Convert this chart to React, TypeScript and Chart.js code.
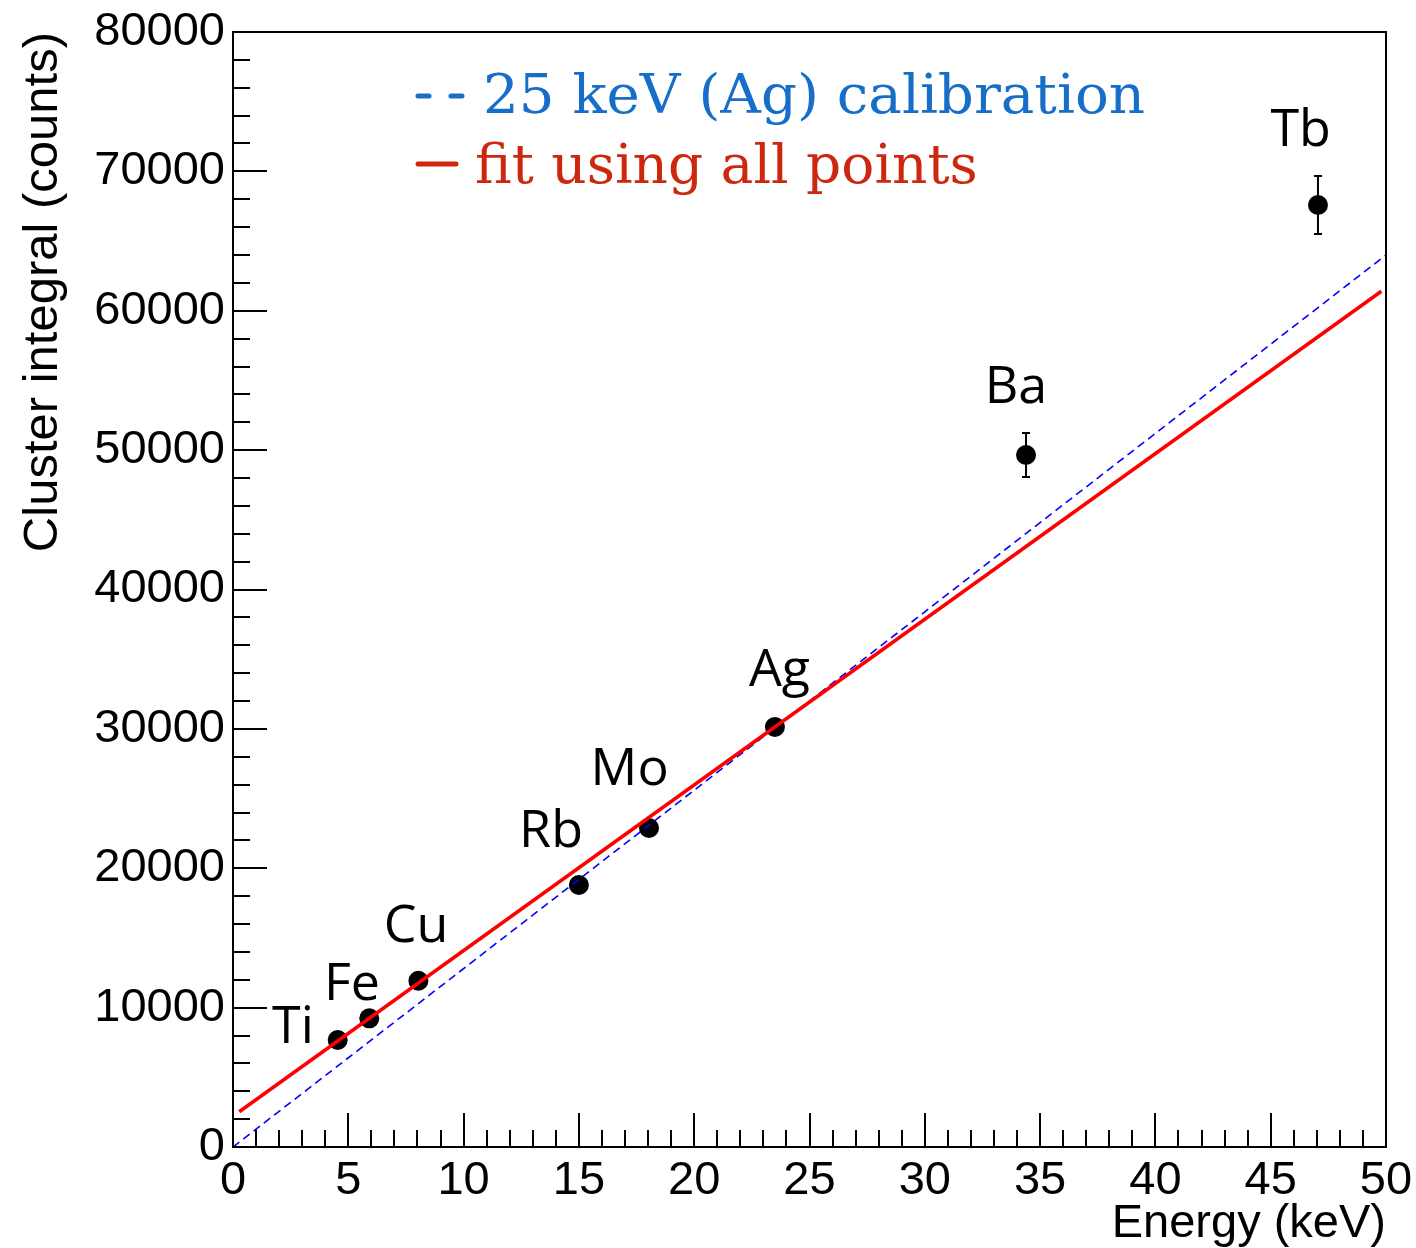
import React, { useEffect, useRef } from 'react';
import { Chart, registerables } from 'chart.js';

Chart.register(...registerables);

// ---- data ----
const elementNames = ['Ti', 'Fe', 'Cu', 'Rb', 'Mo', 'Ag', 'Ba', 'Tb'];
const energies = [4.54, 5.91, 8.04, 15.0, 18.04, 23.5, 34.39, 47.05];
const integrals = [7680, 9230, 11930, 18800, 22890, 30140, 49650, 67590];
const integralErrors = [200, 250, 300, 400, 450, 550, 1580, 2080];

// label anchors (data units: x centre, y baseline)
const labelAnchorX = [2.6, 5.16, 7.94, 13.79, 17.2, 23.7, 33.95, 46.3];
const labelAnchorY = [7460, 10550, 14710, 21530, 25970, 33080, 53380, 71820];

// 25 keV (Ag) calibration line
const calibrationX = [0, 50];
const calibrationY = [0, 64000];

// fit using all points
const fitX = [0.27, 49.8];
const fitY = [2530, 61400];

const xMin = 0, xMax = 50, xMajor = 5, xMinor = 1;
const yMin = 0, yMax = 80000, yMajor = 10000, yMinor = 2000;

const legendLines = ['25 keV (Ag) calibration', 'fit using all points'];
const xTitle = 'Energy (keV)';
const yTitle = 'Cluster integral (counts)';

const AXIS_FONT = '"Liberation Sans", Arial, Helvetica, sans-serif';
const LABEL_FONT = '"Open Sans", sans-serif';
const LEGEND_FONT = '"DejaVu Serif", serif';
const BLUE_TEXT = 'rgb(22,110,200)';
const RED_TEXT = 'rgb(205,40,15)';

const overlay = {
  id: 'overlay',
  beforeDatasetsDraw(chart: any) {
    const ctx = chart.ctx;
    const xs = chart.scales.x, ys = chart.scales.y;
    ctx.save();
    ctx.strokeStyle = '#000';
    ctx.lineWidth = 2;
    energies.forEach((e, i) => {
      const px = xs.getPixelForValue(e);
      const top = ys.getPixelForValue(integrals[i] + integralErrors[i]);
      const bot = ys.getPixelForValue(integrals[i] - integralErrors[i]);
      ctx.beginPath();
      ctx.moveTo(px, top); ctx.lineTo(px, bot);
      ctx.moveTo(px - 4, top); ctx.lineTo(px + 4, top);
      ctx.moveTo(px - 4, bot); ctx.lineTo(px + 4, bot);
      ctx.stroke();
    });
    ctx.restore();
  },
  afterDraw(chart: any) {
    const ctx = chart.ctx;
    const xs = chart.scales.x, ys = chart.scales.y;
    const { left, right, top, bottom } = chart.chartArea;
    ctx.save();
    // frame
    ctx.strokeStyle = '#000';
    ctx.lineWidth = 2;
    ctx.strokeRect(left, top, right - left, bottom - top);
    // inner ticks
    ctx.beginPath();
    for (let v = xMin; v <= xMax + 1e-9; v += xMinor) {
      const px = Math.round(xs.getPixelForValue(v));
      const major = Math.abs(v / xMajor - Math.round(v / xMajor)) < 1e-6;
      const len = major ? 34 : 17;
      ctx.moveTo(px, bottom); ctx.lineTo(px, bottom - len);
    }
    for (let v = yMin; v <= yMax + 1e-9; v += yMinor) {
      const py = Math.round(ys.getPixelForValue(v));
      const major = Math.abs(v / yMajor - Math.round(v / yMajor)) < 1e-6;
      const len = major ? 34 : 17;
      ctx.moveTo(left, py); ctx.lineTo(left + len, py);
    }
    ctx.stroke();

    // element labels
    ctx.fillStyle = '#000';
    ctx.font = `52px ${LABEL_FONT}`;
    ctx.textAlign = 'center';
    ctx.textBaseline = 'alphabetic';
    elementNames.forEach((n, i) => {
      ctx.fillText(n, xs.getPixelForValue(labelAnchorX[i]), ys.getPixelForValue(labelAnchorY[i]));
    });

    // legend
    const lx = left + 183;
    ctx.lineCap = 'round';
    ctx.lineWidth = 5;
    ctx.strokeStyle = BLUE_TEXT;
    ctx.beginPath();
    ctx.moveTo(lx + 2, top + 64); ctx.lineTo(lx + 13, top + 64);
    ctx.moveTo(lx + 35, top + 64); ctx.lineTo(lx + 46, top + 64);
    ctx.stroke();
    ctx.strokeStyle = RED_TEXT;
    ctx.beginPath();
    ctx.moveTo(lx + 2, top + 132); ctx.lineTo(lx + 40, top + 132);
    ctx.stroke();
    ctx.font = `55px ${LEGEND_FONT}`;
    ctx.textAlign = 'left';
    ctx.fillStyle = BLUE_TEXT;
    ctx.save();
    ctx.translate(lx + 67, top + 81);
    ctx.scale(1.023, 1);
    ctx.fillText(legendLines[0], 0, 0);
    ctx.restore();
    ctx.fillStyle = RED_TEXT;
    ctx.fillText(legendLines[1], lx + 59, top + 151);
    ctx.restore();
  },
};

export default function App() {
  const ref = useRef<HTMLCanvasElement | null>(null);
  useEffect(() => {
    document.body.style.margin = '0';
    document.body.style.overflow = 'hidden';
    const canvas = ref.current!;
    const points = energies.map((e, i) => ({ x: e, y: integrals[i] }));
    const calib = calibrationX.map((x, i) => ({ x, y: calibrationY[i] }));
    const fit = fitX.map((x, i) => ({ x, y: fitY[i] }));
    const chart = new Chart(canvas, {
      type: 'scatter',
      data: {
        datasets: [
          {
            label: 'fit using all points',
            data: fit,
            showLine: true,
            borderColor: '#ff0000',
            borderWidth: 3.5,
            pointRadius: 0,
            fill: false,
          },
          {
            label: '25 keV (Ag) calibration',
            data: calib,
            showLine: true,
            borderColor: '#0000ff',
            borderWidth: 1.6,
            borderDash: [8, 5],
            pointRadius: 0,
            fill: false,
          },
          {
            label: 'data',
            data: points,
            showLine: false,
            pointRadius: 10,
            pointHoverRadius: 10,
            pointBackgroundColor: '#000',
            pointBorderColor: '#000',
            pointBorderWidth: 0,
          },
        ],
      },
      options: {
        animation: false,
        responsive: false,
        devicePixelRatio: 1,
        layout: { padding: { top: 32, right: 30, left: 0, bottom: 0 } },
        plugins: { legend: { display: false }, tooltip: { enabled: false } },
        events: [],
        scales: {
          x: {
            type: 'linear',
            min: xMin,
            max: xMax,
            grid: { display: false, drawTicks: false },
            border: { display: false },
            ticks: {
              stepSize: xMajor,
              padding: 6,
              color: '#000',
              font: { family: AXIS_FONT, size: 47 },
              maxRotation: 0,
              autoSkip: false,
              callback: (v: any) => String(v),
            },
            title: {
              display: true,
              text: xTitle,
              align: 'end',
              color: '#000',
              font: { family: AXIS_FONT, size: 47, lineHeight: 1 },
              padding: 0,
            },
            afterFit: (s: any) => {
              s.height = 101;
              s.paddingLeft = 0;
              s.paddingRight = 0;
            },
          },
          y: {
            type: 'linear',
            min: yMin,
            max: yMax,
            grid: { display: false, drawTicks: false },
            border: { display: false },
            ticks: {
              stepSize: yMajor,
              padding: 8,
              color: '#000',
              font: { family: AXIS_FONT, size: 47 },
              autoSkip: false,
              callback: (v: any) => String(v),
            },
            title: {
              display: true,
              text: yTitle,
              align: 'end',
              color: '#000',
              font: { family: AXIS_FONT, size: 49, lineHeight: 1 },
              padding: { top: 19, bottom: 0 },
            },
            afterFit: (s: any) => {
              s.width = 233;
              s.paddingTop = 0;
              s.paddingBottom = 0;
            },
          },
        },
      } as any,
      plugins: [overlay],
    });
    return () => chart.destroy();
  }, []);
  return (
    <div style={{ width: 1416, height: 1248, background: '#fff' }}>
      <canvas ref={ref} width={1416} height={1248} style={{ display: 'block' }} />
    </div>
  );
}
